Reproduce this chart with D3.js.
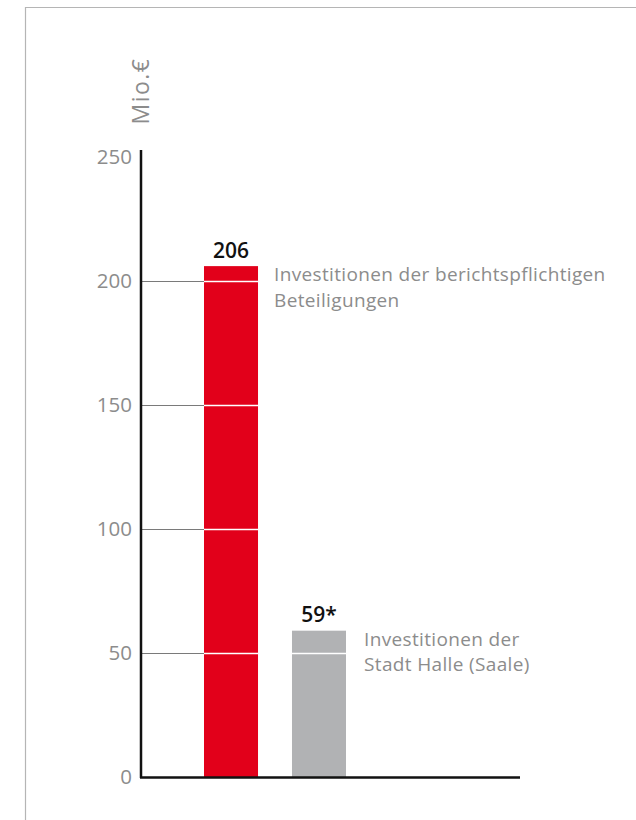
<!DOCTYPE html>
<html><head><meta charset="utf-8">
<script src="https://cdn.jsdelivr.net/npm/d3@7"></script>
<style>body{margin:0;background:#fff}svg{display:block}</style>
</head><body>
<svg id="c" width="636" height="820"></svg>
<script>
const categories = ["Beteiligungen", "Stadt Halle (Saale)"];
const values = [206, 59];
const valueLabels = ["206", "59*"];
const annotations = [["Investitionen der berichtspflichtigen", "Beteiligungen"], ["Investitionen der", "Stadt Halle (Saale)"]];
const colors = ["#e2001a", "#b1b2b4"];
const yTicks = [0, 50, 100, 150, 200, 250];
const unitLabel = "Mio.€";

const svg = d3.select("#c");
const font = "'Open Sans', sans-serif";
// frame
svg.append("path").attr("d", "M25.5,820 V7.5 H636").attr("fill", "none").attr("stroke", "#b5b5b5").attr("stroke-width", 1.2);

const y = d3.scaleLinear().domain([0, 250]).range([777, 157]);
const x = d3.scaleBand().domain(categories).range([204, 346]).paddingInner(0.386).paddingOuter(0);

// grid lines from axis to first bar
const g = svg.append("g");
g.selectAll("line.grid").data(yTicks.filter(d => d > 0 && d < 250)).join("line")
  .attr("x1", 140).attr("x2", x(categories[0])).attr("y1", d => y(d) + 0.5).attr("y2", d => y(d) + 0.5)
  .attr("stroke", "#7a7a7a").attr("stroke-width", 1);

// bars
g.selectAll("rect.bar").data(values).join("rect")
  .attr("x", (d, i) => x(categories[i])).attr("width", x.bandwidth())
  .attr("y", d => y(d)).attr("height", d => y(0) - y(d))
  .attr("fill", (d, i) => colors[i]);

// white lines through bars
values.forEach((v, i) => {
  g.selectAll(null).data(yTicks.filter(t => t > 0 && t < v)).join("line")
    .attr("x1", x(categories[i])).attr("x2", x(categories[i]) + x.bandwidth())
    .attr("y1", d => y(d) + 0.5).attr("y2", d => y(d) + 0.5)
    .attr("stroke", "#fff").attr("stroke-width", 1.5);
});

// value labels
g.selectAll("text.val").data(values).join("text")
  .attr("x", (d, i) => x(categories[i]) + x.bandwidth() / 2).attr("y", d => y(d) - 8.5)
  .attr("text-anchor", "middle").attr("font-family", font).attr("font-size", 21).attr("font-weight", 600)
  .attr("fill", "#111").text((d, i) => valueLabels[i]);

// annotations
annotations.forEach((lines, i) => {
  const ax = x(categories[i]) + x.bandwidth() + 16 + i * 2;
  const t = svg.append("text").attr("font-family", font).attr("font-size", 19).attr("letter-spacing", 0.35)
    .attr("fill", "#8c8c8c").attr("y", y(values[i]) + 15);
  lines.forEach((l, j) => t.append("tspan").attr("x", ax).attr("dy", j ? 25.5 : 0).text(l));
});

// y axis
const yAxis = d3.axisLeft(y).tickValues(yTicks).tickSize(0).tickPadding(8);
const ya = svg.append("g").attr("transform", "translate(140,0)").call(yAxis);
ya.select(".domain").remove();
ya.selectAll("text").attr("font-family", font).attr("font-size", 20.5).attr("fill", "#8c8c8c");
svg.append("line").attr("x1", 141).attr("x2", 141).attr("y1", 150).attr("y2", 778).attr("stroke", "#111").attr("stroke-width", 2.5);
// x axis
svg.append("line").attr("x1", 140).attr("x2", 520).attr("y1", 777.5).attr("y2", 777.5).attr("stroke", "#111").attr("stroke-width", 2.5);

// unit label
svg.append("text").attr("transform", "translate(148.5,91) rotate(-90)").attr("text-anchor", "middle")
  .attr("font-family", font).attr("font-size", 23).attr("letter-spacing", 1.5)
  .attr("fill", "#8c8c8c").text(unitLabel);
</script>
</body></html>
